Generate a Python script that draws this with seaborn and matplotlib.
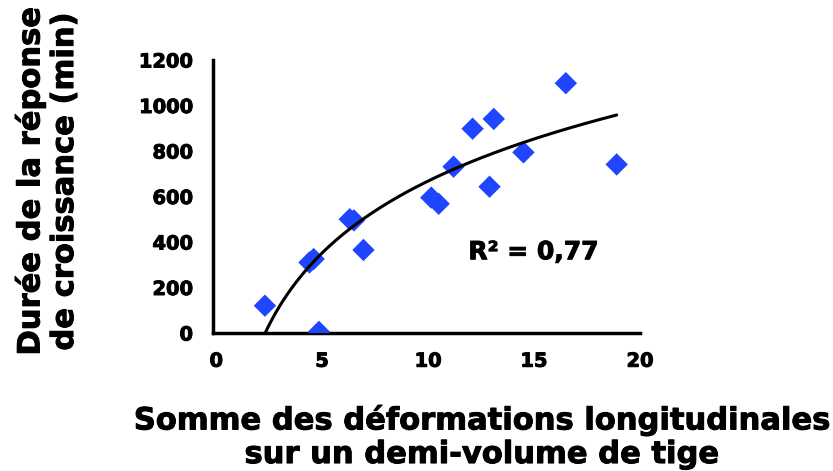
import numpy as np
import pandas as pd
import matplotlib
matplotlib.use("Agg")
import matplotlib.pyplot as plt
import matplotlib.patheffects as pe
import seaborn as sns

# Data
deformation = [2.3, 4.4, 4.6, 4.85, 6.3, 6.5, 6.95, 10.15, 10.5, 11.2, 12.1, 12.9, 13.1, 14.5, 16.5, 18.9]
duree = [120, 310, 325, 5, 500, 495, 365, 595, 568, 731, 898, 643, 941, 794, 1098, 741]

# Logarithmic trend line coefficients (y = a*ln(x) + b)
trend_a = 456
trend_b = -382
trend_x_start = 2.31
trend_x_end = 18.9
r2_label = "R² = 0,77"

x_ticks = [0, 5, 10, 15, 20]
y_ticks = [0, 200, 400, 600, 800, 1000, 1200]

xlabel = "Somme des déformations longitudinales\nsur un demi-volume de tige"
ylabel = "Durée de la réponse\nde croissance (min)"

sns.set_theme(style="white")
plt.rcParams['font.family'] = ['DejaVu Sans']
plt.rcParams['font.weight'] = 'bold'
plt.rcParams['text.color'] = 'black'
plt.rcParams['xtick.color'] = 'black'
plt.rcParams['ytick.color'] = 'black'

fig = plt.figure(figsize=(8.33, 4.71), dpi=100)
ax = fig.add_axes([213/833, 1-333/471, (640-213)/833, (333-60)/471])

df = pd.DataFrame({"x": deformation, "y": duree})
sns.scatterplot(data=df, x="x", y="y", ax=ax, marker="D", s=130,
                color="#1f45ff", edgecolor="none", zorder=3)

xt = np.linspace(trend_x_start, trend_x_end, 200)
trend = pd.DataFrame({"x": xt, "y": trend_a*np.log(xt) + trend_b})
sns.lineplot(data=trend, x="x", y="y", ax=ax, color="black", lw=2.2, zorder=4)

stroke = [pe.withStroke(linewidth=0.7, foreground="black")]

ax.set_xlim(-0.15, 20)
ax.set_ylim(0, 1200)
ax.set_xticks(x_ticks)
ax.set_yticks(y_ticks)
ax.set_xticklabels([str(v) for v in x_ticks], fontsize=14, fontweight='bold', color='black')
ax.set_yticklabels([str(v) for v in y_ticks], fontsize=14, fontweight='bold', color='black')
for lab in ax.get_xticklabels() + ax.get_yticklabels():
    lab.set_path_effects(stroke)
ax.tick_params(axis='both', direction='inout', length=9, width=2.2, colors='black', pad=9)
ax.tick_params(axis='y', pad=10)

for s in ['top', 'right']:
    ax.spines[s].set_visible(False)
for s in ['left', 'bottom']:
    ax.spines[s].set_linewidth(2.5)
    ax.spines[s].set_color('black')

ax.set_xlabel("")
ax.set_ylabel("")
fig.text(481/833, 1-437/471, xlabel, ha='center', va='center', fontsize=22,
         fontweight='bold', linespacing=1.2, color='black', path_effects=stroke)
fig.text(47/833, 1-182/471, ylabel, ha='center', va='center', rotation=90,
         fontsize=22, fontweight='bold', linespacing=1.2, color='black', path_effects=stroke)

ax.text(11.9, 355, r2_label, ha='left', va='center', fontsize=18,
        fontweight='bold', color='black', path_effects=stroke)

fig.savefig("out.png", dpi=100, facecolor="white")
